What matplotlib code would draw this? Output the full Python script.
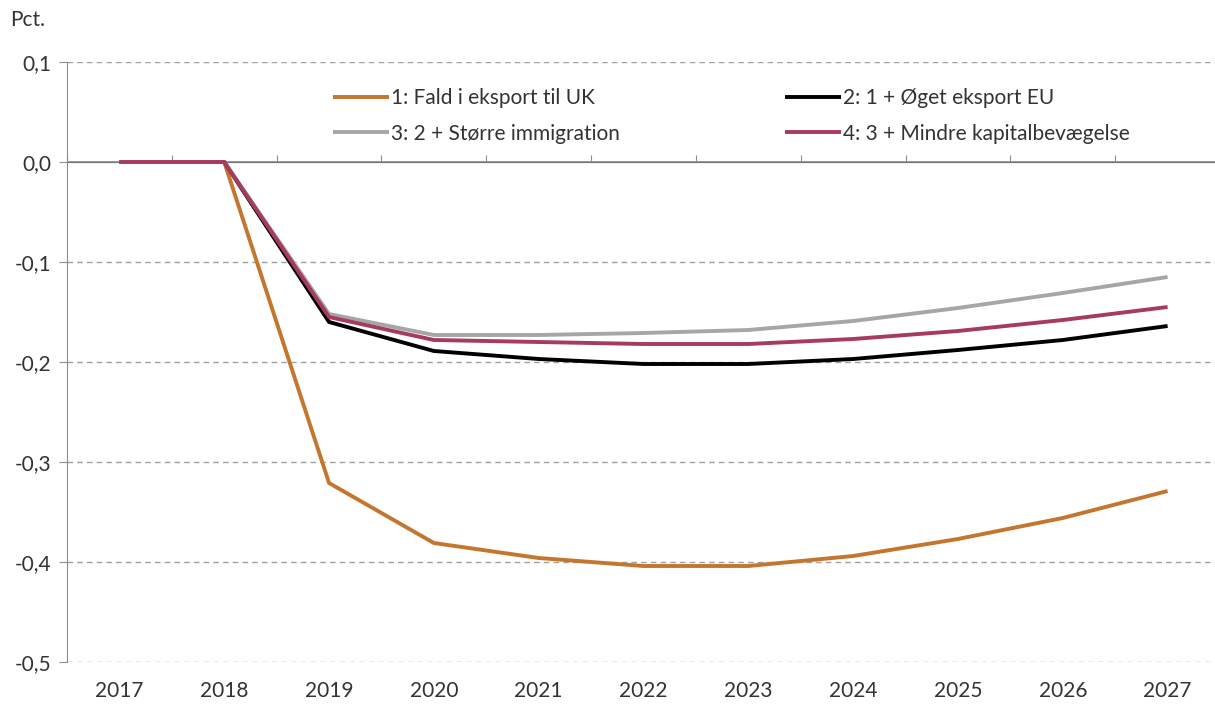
import matplotlib.pyplot as plt
from matplotlib.ticker import FuncFormatter

years = ["2017", "2018", "2019", "2020", "2021", "2022", "2023", "2024", "2025", "2026", "2027"]
fald_uk = [0, 0, -0.321, -0.381, -0.396, -0.404, -0.404, -0.394, -0.377, -0.356, -0.329]
oget_eu = [0, 0, -0.160, -0.189, -0.197, -0.202, -0.202, -0.197, -0.188, -0.178, -0.164]
immigration = [0, 0, -0.152, -0.173, -0.173, -0.171, -0.168, -0.159, -0.146, -0.131, -0.115]
kapital = [0, 0, -0.155, -0.178, -0.180, -0.182, -0.182, -0.177, -0.169, -0.158, -0.145]

labels = ["1: Fald i eksport til UK", "2: 1 + Øget eksport EU",
          "3: 2 + Større immigration", "4: 3 + Mindre kapitalbevægelse"]
colors = ["#C4762E", "#000000", "#A6A6A6", "#A83A5F"]

plt.rcParams['font.family'] = ['Lato', 'DejaVu Sans']
gray = "#8C8C8C"
txt = "#333333"
fs = 15

fig = plt.figure(figsize=(12.15, 7.04), dpi=100)
ax = fig.add_axes([67 / 1215, 42 / 704, 1153 / 1215, 600 / 704])

x = list(range(len(years)))
series = [fald_uk, oget_eu, immigration, kapital]
lines = []
for s, c, lab in zip(series, colors, labels):
    ln, = ax.plot(x, s, color=c, lw=2.8, label=lab, solid_capstyle='butt')
    lines.append(ln)

ax.set_xlim(-0.5, 10.5)
ax.set_ylim(-0.5, 0.1)
ax.set_yticks([0.1, 0.0, -0.1, -0.2, -0.3, -0.4, -0.5])
ax.yaxis.set_major_formatter(FuncFormatter(lambda v, p: f"{v:.1f}".replace(".", ",").replace("-0,0", "0,0")))
ax.set_xticks(x)
ax.set_xticklabels(years)
ax.tick_params(axis='x', length=0, pad=14, labelsize=fs, colors=txt)
ax.tick_params(axis='y', length=6, color=gray, labelsize=fs, labelcolor=txt, pad=5)

for sp in ["top", "right", "bottom"]:
    ax.spines[sp].set_visible(False)
ax.spines["left"].set_color(gray)

for v in [0.1, -0.1, -0.2, -0.3, -0.4, -0.5]:
    ax.axhline(v, color="#A0A0A0", lw=1, ls=(0, (4, 3)), zorder=0)
ax.axhline(0, color=gray, lw=1.2, zorder=1)

sec = ax.secondary_xaxis(5 / 6)
sec.set_xticks([i - 0.5 for i in range(len(years) + 1)])
sec.set_xticklabels([])
sec.tick_params(direction='out', length=5, color=gray)
sec.spines["bottom"].set_visible(False)

order = [lines[0], lines[2], lines[1], lines[3]]
leg_kw = dict(loc='upper left', bbox_transform=fig.transFigure, frameon=False,
              fontsize=fs, handlelength=2.7, handletextpad=0.1, labelspacing=0.75,
              borderaxespad=0, borderpad=0, labelcolor=txt)
leg = ax.legend(order[:2], [labels[0], labels[2]],
                bbox_to_anchor=(333 / 1215, 1 - 88 / 704), **leg_kw)
ax.add_artist(leg)
ax.legend(order[2:], [labels[1], labels[3]],
          bbox_to_anchor=(785 / 1215, 1 - 88 / 704), **leg_kw)

fig.text(10 / 1215, 1 - 20 / 704, "Pct.", fontsize=fs, color=txt, va='center')

fig.savefig("out.png", dpi=100)
